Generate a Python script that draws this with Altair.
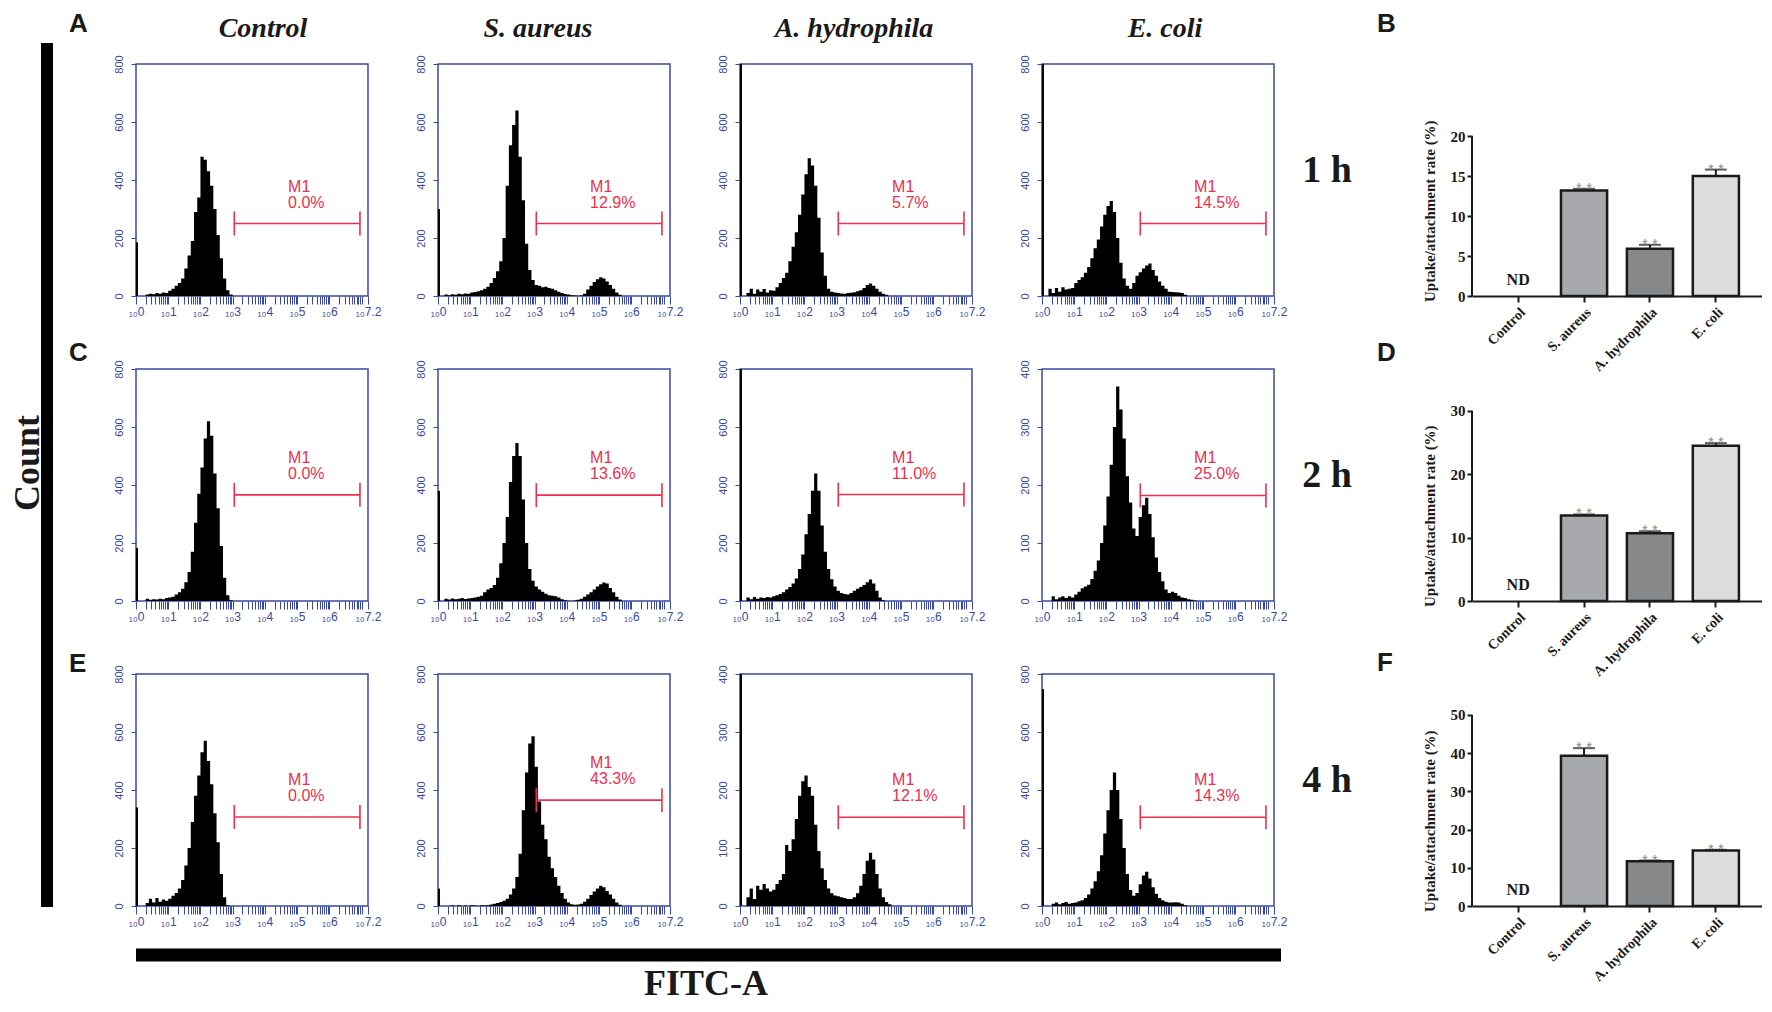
import math
import altair as alt
import pandas as pd

BLUE = "#3a48a5"
RED = "#ee2f4d"
INK = "#1a1a1a"
SERIF = "Liberation Serif"
SANS = "Liberation Sans"

# ---------------- text content ----------------
col_names = ["Control", "S. aureus", "A. hydrophila", "E. coli"]
time_labels = ["1 h", "2 h", "4 h"]
left_letters = ["A", "C", "E"]
right_letters = ["B", "D", "F"]

# ---------------- histogram data (counts per 0.1-decade bin, log10 FITC-A) ----------------
BIN = 0.1
ctrl_1h_start = 0.3
ctrl_1h = [5, 8, 6, 10, 8, 12, 10, 18, 25, 35, 45, 60, 95, 140, 190, 290, 340, 480, 470, 430,
           380, 300, 210, 130, 60, 20, 5]
sa_1h_start = 0.2
sa_1h = [5, 3, 6, 4, 8, 6, 9, 8, 12, 14, 16, 20, 25, 32, 45, 62, 85, 120, 200, 380, 520, 590, 640,
         480, 330, 180, 90, 55, 38, 35, 30, 32, 28, 25, 20, 15, 10, 7, 5, 3, 2, 1, 2, 8, 22, 35, 48,
         58, 65, 60, 50, 38, 25, 12, 4]
ah_1h_start = 0.2
ah_1h = [10, 25, 8, 22, 15, 24, 12, 20, 18, 30, 45, 62, 80, 120, 170, 220, 280, 350, 420, 475, 450,
         380, 270, 150, 70, 25, 15, 12, 10, 9, 8, 10, 11, 13, 16, 20, 28, 38, 43, 35, 25, 15, 8, 4]
ec_1h_start = 0.2
ec_1h = [25, 10, 28, 15, 30, 22, 25, 28, 45, 55, 65, 80, 100, 130, 165, 195, 240, 280, 310, 328,
         290, 200, 115, 60, 35, 25, 45, 70, 82, 95, 105, 112, 90, 70, 50, 35, 25, 15, 14, 13, 12, 10, 4]

ctrl_2h_start = 0.3
ctrl_2h = [8, 4, 6, 5, 8, 6, 10, 12, 15, 22, 30, 42, 65, 100, 170, 270, 370, 460, 560, 620, 570,
           440, 320, 190, 80, 20, 3]
sa_2h_start = 0.2
sa_2h = [8, 5, 9, 6, 8, 10, 7, 9, 10, 12, 15, 18, 30, 40, 45, 55, 80, 130, 200, 290, 410, 500, 545,
         500, 350, 200, 110, 70, 50, 40, 32, 25, 20, 18, 16, 12, 6, 3, 1, 0, 2, 4, 8, 15, 22, 30, 40,
         50, 58, 64, 60, 45, 30, 15, 5]
ah_2h_start = 0.2
ah_2h = [12, 6, 14, 8, 12, 10, 14, 12, 16, 20, 24, 30, 40, 48, 60, 78, 110, 160, 230, 300, 380, 440,
         380, 260, 170, 110, 75, 50, 35, 28, 24, 22, 28, 35, 42, 48, 55, 65, 74, 60, 35, 12, 3]
ec_2h_start = 0.3
ec_2h = [8, 3, 6, 8, 5, 8, 6, 11, 16, 22, 25, 28, 38, 52, 70, 100, 130, 180, 235, 300, 370, 330, 280,
         215, 170, 125, 112, 145, 165, 178, 150, 110, 75, 50, 34, 20, 14, 16, 14, 9, 6, 5, 3, 2, 1]

ctrl_4h_start = 0.3
ctrl_4h = [10, 25, 12, 28, 15, 22, 18, 25, 35, 45, 60, 90, 140, 200, 290, 380, 450, 530, 570, 500,
           420, 320, 220, 110, 30, 3]
sa_4h_start = 0.4
sa_4h = [2, 0, 3, 0, 2, 0, 3, 2, 0, 3, 2, 3, 5, 8, 10, 14, 18, 25, 40, 60, 100, 180, 330, 460, 560,
         585, 480, 360, 280, 230, 170, 130, 100, 70, 45, 25, 12, 6, 4, 5, 8, 15, 25, 38, 50, 60, 70,
         65, 52, 40, 25, 12, 4]
ah_4h_start = 0.2
ah_4h = [15, 30, 12, 35, 28, 38, 30, 25, 28, 38, 45, 55, 105, 95, 115, 150, 190, 215, 225, 205, 190,
         140, 95, 65, 45, 30, 22, 18, 17, 15, 14, 12, 12, 15, 22, 35, 55, 78, 92, 80, 55, 30, 15, 7, 3]
ec_4h_start = 0.3
ec_4h = [8, 12, 6, 10, 14, 8, 10, 12, 16, 20, 28, 40, 60, 85, 120, 175, 250, 330, 400, 460, 400,
         300, 200, 110, 55, 35, 45, 75, 105, 118, 95, 65, 42, 28, 20, 15, 12, 12, 13, 12, 8, 3]

hist_counts = [[ctrl_1h, sa_1h, ah_1h, ec_1h],
               [ctrl_2h, sa_2h, ah_2h, ec_2h],
               [ctrl_4h, sa_4h, ah_4h, ec_4h]]
hist_starts = [[ctrl_1h_start, sa_1h_start, ah_1h_start, ec_1h_start],
               [ctrl_2h_start, sa_2h_start, ah_2h_start, ec_2h_start],
               [ctrl_4h_start, sa_4h_start, ah_4h_start, ec_4h_start]]

# channel-0 pile-up spikes at the left edge
spikes = [[185, 300, 800, 800],
          [183, 380, 800, 0],
          [340, 60, 400, 748]]
y_max = [[800, 800, 800, 800],
         [800, 800, 800, 400],
         [800, 800, 400, 800]]

# M1 gate
gate_lo = 3.05
gate_hi = 6.95
gate_label_x = 4.72
gate_y = [[250, 250, 250, 250],
          [366, 365, 367, 182],
          [307, 365, 153, 306]]
gate_pct = [["0.0%", "12.9%", "5.7%", "14.5%"],
            ["0.0%", "13.6%", "11.0%", "25.0%"],
            ["0.0%", "43.3%", "12.1%", "14.3%"]]

# ---------------- bar chart data ----------------
bar_cats = ["Control", "S. aureus", "A. hydrophila", "E. coli"]
bar_fill = ["#ffffff", "#a7a9ac", "#87888a", "#dcdcdd"]
rate_1h = [0, 13.2, 5.9, 15.0]
err_1h = [0, 0.2, 0.5, 0.8]
rate_2h = [0, 13.5, 10.7, 24.5]
err_2h = [0, 0.15, 0.3, 0.4]
rate_4h = [0, 39.3, 11.7, 14.5]
err_4h = [0, 2.0, 0.2, 0.2]
rates = [rate_1h, rate_2h, rate_4h]
errs = [err_1h, err_2h, err_4h]
bar_axis_max = [20, 30, 50]
bar_ticks = [[0, 5, 10, 15, 20], [0, 10, 20, 30], [0, 10, 20, 30, 40, 50]]
bar_domain_top = [29.0, 36.6, 60.7]

# ---------------- layout ----------------
W = 232
H = 232
LEFT_W = 58
SPACER_W = 58
BAR_W = 290
title_dx = [11, -16, -2, 7]

ONE = alt.Data(values=[{}])

XTICKS = sorted(set([round(k + math.log10(m), 4) for k in range(7) for m in range(1, 10)] + [7.0, 7.2]))
XLABEL = ("datum.value == 7.2 ? '\u2081\u20807.2' : "
          "((datum.value % 1 == 0 && datum.value < 7) ? '\u2081\u2080' + datum.value : '')")


def hist(r, c):
    counts = hist_counts[r][c]
    start = hist_starts[r][c]
    n = len(counts)
    xs = [round(start + BIN * i, 2) for i in range(n + 1)]
    df = pd.DataFrame({"x": xs, "n": counts + [0]})
    ym = y_max[r][c]
    xsc = alt.Scale(domain=[0, 7.2], nice=False, zero=False)
    ysc = alt.Scale(domain=[0, ym], nice=False)
    xaxis = alt.Axis(values=XTICKS, labelExpr=XLABEL, domain=False, grid=False,
                     tickColor=BLUE, tickSize=8, tickWidth=1, labelColor=BLUE,
                     labelFont=SANS, labelFontSize=12, labelPadding=2,
                     labelOverlap=False, labelFlush=False, labelBound=False, title=None)
    yaxis = alt.Axis(values=[ym * k // 4 for k in range(5)], labelAngle=270, labelAlign="center",
                     labelBaseline="bottom", domain=False, grid=False, tickColor=BLUE,
                     tickSize=5, tickWidth=1, labelColor=BLUE, labelFont=SANS, labelFontSize=11,
                     labelPadding=7, title=None)

    def X(f):
        return alt.X(f, scale=xsc, axis=xaxis)

    def Y(f):
        return alt.Y(f, scale=ysc, axis=yaxis)

    layers = [
        alt.Chart(df).mark_area(interpolate="step-after", color="black").encode(
            x=X("x:Q"), y=Y("n:Q"))
    ]
    sp = spikes[r][c]
    if sp > 0:
        sdf = pd.DataFrame({"x": [0.03], "a": [0], "b": [sp]})
        layers.append(alt.Chart(sdf).mark_rule(color="black", strokeWidth=2).encode(
            x=X("x:Q"), y=Y("a:Q"), y2="b"))
    gy = gate_y[r][c]
    cap = ym * 12 / H
    gdf = pd.DataFrame({"x": [gate_lo], "x2": [gate_hi], "y": [gy]})
    layers.append(alt.Chart(gdf).mark_rule(color=RED, strokeWidth=1.6).encode(
        x=X("x:Q"), x2="x2", y=Y("y:Q")))
    cdf = pd.DataFrame({"x": [gate_lo, gate_hi], "a": [gy - cap] * 2, "b": [gy + cap] * 2})
    layers.append(alt.Chart(cdf).mark_rule(color=RED, strokeWidth=1.6).encode(
        x=X("x:Q"), y=Y("a:Q"), y2="b"))
    tdf = pd.DataFrame({"x": [gate_label_x], "y": [gy], "m": ["M1"], "p": [gate_pct[r][c]]})
    for field, off in (("m", -32), ("p", -16)):
        layers.append(alt.Chart(tdf).mark_text(align="left", baseline="alphabetic", dy=off,
                                              color=RED, font=SANS, fontSize=16).encode(
            x=X("x:Q"), y=Y("y:Q"), text=f"{field}:N"))
    if r == 0:
        layers.append(alt.Chart(ONE).mark_text(
            text=col_names[c], font=SERIF, fontStyle="italic", fontWeight="bold", fontSize=28,
            align="center", baseline="alphabetic", color=INK).encode(
            x=alt.value(W / 2 + title_dx[c]), y=alt.value(-27)))
    if r == 2 and c == 0:
        layers.append(alt.Chart(ONE).mark_rule(color="black", strokeWidth=13).encode(
            x=alt.value(0), x2=alt.value(1145), y=alt.value(281)))
        layers.append(alt.Chart(ONE).mark_text(
            text="FITC-A", font=SERIF, fontWeight="bold", fontSize=36, align="center",
            baseline="alphabetic", color=INK).encode(x=alt.value(570), y=alt.value(321)))
    return alt.layer(*layers).properties(
        width=W, height=H,
        view=alt.ViewBackground(stroke=BLUE, strokeWidth=1.5, strokeOpacity=1))


def left_strip(r):
    tops = [-53, -29, -23]
    layers = [alt.Chart(ONE).mark_text(text=left_letters[r], font=SANS, fontWeight="bold",
                                       fontSize=26, align="left", baseline="top",
                                       color=INK).encode(x=alt.value(61), y=alt.value(tops[r]))]
    if r == 0:
        layers.append(alt.Chart(ONE).mark_rule(color="black", strokeWidth=12).encode(
            x=alt.value(39), y=alt.value(-21), y2=alt.value(843)))
        layers.append(alt.Chart(ONE).mark_text(text="Count", font=SERIF, fontWeight="bold",
                                               fontSize=36, angle=270, align="center",
                                               baseline="middle", color=INK).encode(
            x=alt.value(20), y=alt.value(399)))
    return alt.layer(*layers).properties(width=LEFT_W, height=H)


def spacer(r):
    tops = [-53, -29, -24]
    t = alt.Chart(ONE).mark_text(text=time_labels[r], font=SERIF, fontWeight="bold", fontSize=38,
                                 align="center", baseline="alphabetic", color=INK).encode(
        x=alt.value(-17), y=alt.value(118))
    l = alt.Chart(ONE).mark_text(text=right_letters[r], font=SANS, fontWeight="bold", fontSize=26,
                                 align="left", baseline="top", color=INK).encode(
        x=alt.value(33), y=alt.value(tops[r]))
    return alt.layer(t, l).properties(width=SPACER_W, height=H)


def bars(r):
    df = pd.DataFrame({"cat": bar_cats, "v": rates[r], "e": errs[r]})
    df["t"] = df["v"] + df["e"]
    xsc = alt.Scale(domain=bar_cats, paddingInner=0.3, paddingOuter=0.35)
    ysc = alt.Scale(domain=[0, bar_domain_top[r]], nice=False)
    xaxis = alt.Axis(title=None, labelAngle=-45, labelFont=SERIF, labelFontWeight="bold",
                     labelFontSize=14, labelColor=INK, domainColor=INK, domainWidth=2,
                     tickColor=INK, tickWidth=2, tickSize=6, labelPadding=3)
    yaxis = alt.Axis(title=None, values=bar_ticks[r], domain=False, grid=False, tickColor=INK,
                     tickWidth=2, tickSize=5, labelFont=SERIF, labelFontWeight="bold",
                     labelFontSize=15, labelColor=INK, labelPadding=2)
    xe = alt.X("cat:N", sort=bar_cats, scale=xsc, axis=xaxis)

    def Y(f):
        return alt.Y(f, scale=ysc, axis=yaxis)

    base = alt.Chart(df)
    pos = base.transform_filter("datum.v > 0")
    layers = [
        pos.mark_bar(stroke=INK, strokeWidth=2.5).encode(
            x=xe, y=Y("v:Q"),
            color=alt.Color("cat:N", scale=alt.Scale(domain=bar_cats, range=bar_fill), legend=None)),
        pos.mark_rule(color=INK, strokeWidth=2).encode(x=xe, y=Y("v:Q"), y2="t"),
        pos.mark_tick(color=INK, thickness=2, size=22).encode(x=xe, y=Y("t:Q")),
        pos.mark_text(text="* *", font=SANS, fontSize=15, color="#8a8a8a", baseline="alphabetic",
                      dy=4).encode(x=xe, y=Y("t:Q")),
        base.transform_filter("datum.v == 0").mark_text(
            text="ND", font=SERIF, fontWeight="bold", fontSize=16, color=INK,
            baseline="alphabetic", dy=-11).encode(x=xe, y=Y("v:Q")),
        alt.Chart(ONE).mark_rule(color=INK, strokeWidth=2).encode(
            x=alt.value(0), y=alt.YDatum(0, scale=ysc, axis=yaxis),
            y2=alt.Y2Datum(bar_axis_max[r])),
        alt.Chart(ONE).mark_text(text="Uptake/attachment rate (%)", font=SERIF, fontWeight="bold",
                                 fontSize=15, angle=270, align="left", baseline="middle",
                                 dx=-6, color=INK).encode(
            x=alt.value(-42), y=alt.YDatum(0, scale=ysc, axis=yaxis)),
    ]
    return alt.layer(*layers).properties(width=BAR_W, height=H)


cells = []
for r in range(3):
    cells.append(left_strip(r))
    for c in range(4):
        cells.append(hist(r, c))
    cells.append(spacer(r))
    cells.append(bars(r))

chart = alt.concat(*cells, columns=7, spacing={"row": 73, "column": 70}, bounds="flush").properties(
    padding={"top": 3, "left": 0, "right": 0, "bottom": 0}, background="white"
).configure_view(strokeOpacity=0)

chart.save("out.html", embed_options={"renderer": "svg", "actions": False})
